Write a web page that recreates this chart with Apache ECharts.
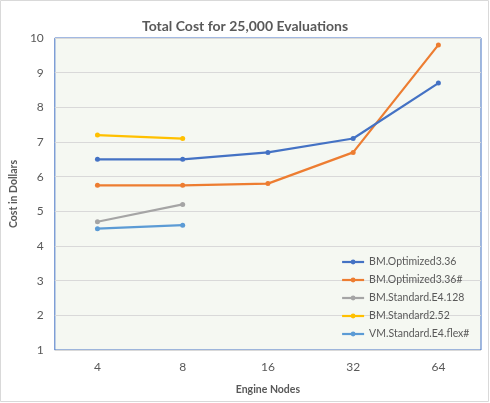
<!DOCTYPE html>
<html>
<head>
<meta charset="utf-8">
<script src="https://cdn.jsdelivr.net/npm/echarts@6/dist/echarts.min.js"></script>
<style>
  html, body { margin: 0; padding: 0; background: #fff; }
  #chart { width: 490px; height: 403px; }
</style>
</head>
<body>
<div id="chart"></div>
<script>
const engineNodes = ["4", "8", "16", "32", "64"];

const seriesNames = [
  "BM.Optimized3.36",
  "BM.Optimized3.36#",
  "BM.Standard.E4.128",
  "BM.Standard2.52",
  "VM.Standard.E4.flex#",
];

const optimized = [6.5, 6.5, 6.7, 7.1, 8.7];
const optimizedHash = [5.75, 5.75, 5.8, 6.7, 9.8];
const standardE4 = [4.7, 5.2, null, null, null];
const standard2 = [7.2, 7.1, null, null, null];
const vmFlex = [4.5, 4.6, null, null, null];

const seriesColors = [
  "#4472C4",
  "#ED7D31",
  "#A5A5A5",
  "#FFC000",
  "#5B9BD5",
];

const seriesValues = [
  optimized,
  optimizedHash,
  standardE4,
  standard2,
  vmFlex,
];

const textColor = "#595959";
const fontFamily = "Lato, 'Open Sans', sans-serif";

const chart = echarts.init(document.getElementById("chart"));

chart.setOption({
  animation: false,
  textStyle: {
    fontFamily,
    color: textColor,
  },
  title: {
    text: "Total Cost for 25,000 Evaluations",
    left: "center",
    top: 14,
    textStyle: {
      fontFamily,
      fontSize: 14,
      fontWeight: "bold",
      color: textColor,
    },
  },
  graphic: [
    {
      type: "rect",
      shape: { x: 0.5, y: 0.5, width: 488, height: 401 },
      style: { fill: "none", stroke: "#D9D9D9", lineWidth: 1 },
      silent: true,
    },
  ],
  legend: {
    orient: "vertical",
    left: 336,
    top: 251,
    itemGap: 6,
    itemWidth: 22,
    itemHeight: 6,
    data: seriesNames,
    lineStyle: {
      width: 2.2,
    },
    textStyle: {
      fontFamily,
      fontSize: 10.5,
      color: textColor,
      lineHeight: 12,
    },
  },
  grid: {
    left: 46,
    top: 38,
    width: 435,
    height: 312,
    show: true,
    backgroundColor: "#F5F8F2",
    borderColor: "#4472C4",
    borderWidth: 1,
    containLabel: false,
  },
  xAxis: {
    type: "category",
    data: engineNodes,
    boundaryGap: true,
    name: "Engine Nodes",
    nameLocation: "middle",
    nameGap: 34,
    nameTextStyle: {
      fontFamily,
      fontSize: 10.5,
      fontWeight: "bold",
      color: textColor,
    },
    axisLine: { show: false },
    axisTick: { show: false },
    axisLabel: {
      margin: 11,
      fontFamily,
      fontSize: 12,
      color: textColor,
    },
    splitLine: { show: false },
  },
  yAxis: {
    type: "value",
    min: 1,
    max: 10,
    interval: 1,
    name: "Cost in Dollars",
    nameLocation: "middle",
    nameGap: 32,
    nameTextStyle: {
      fontFamily,
      fontSize: 10.5,
      fontWeight: "bold",
      color: textColor,
    },
    axisLine: { show: false },
    axisTick: { show: false },
    axisLabel: {
      margin: 11,
      fontFamily,
      fontSize: 12,
      color: textColor,
    },
    splitLine: {
      lineStyle: { color: "#D9D9D9", width: 1 },
    },
  },
  series: seriesNames.map((name, index) => {
    return {
      name,
      type: "line",
      data: seriesValues[index],
      symbol: "circle",
      symbolSize: 5,
      connectNulls: false,
      color: seriesColors[index],
      lineStyle: { width: 2.2, color: seriesColors[index] },
      itemStyle: { color: seriesColors[index] },
      z: 10 - index,
    };
  }),
});
</script>
</body>
</html>
